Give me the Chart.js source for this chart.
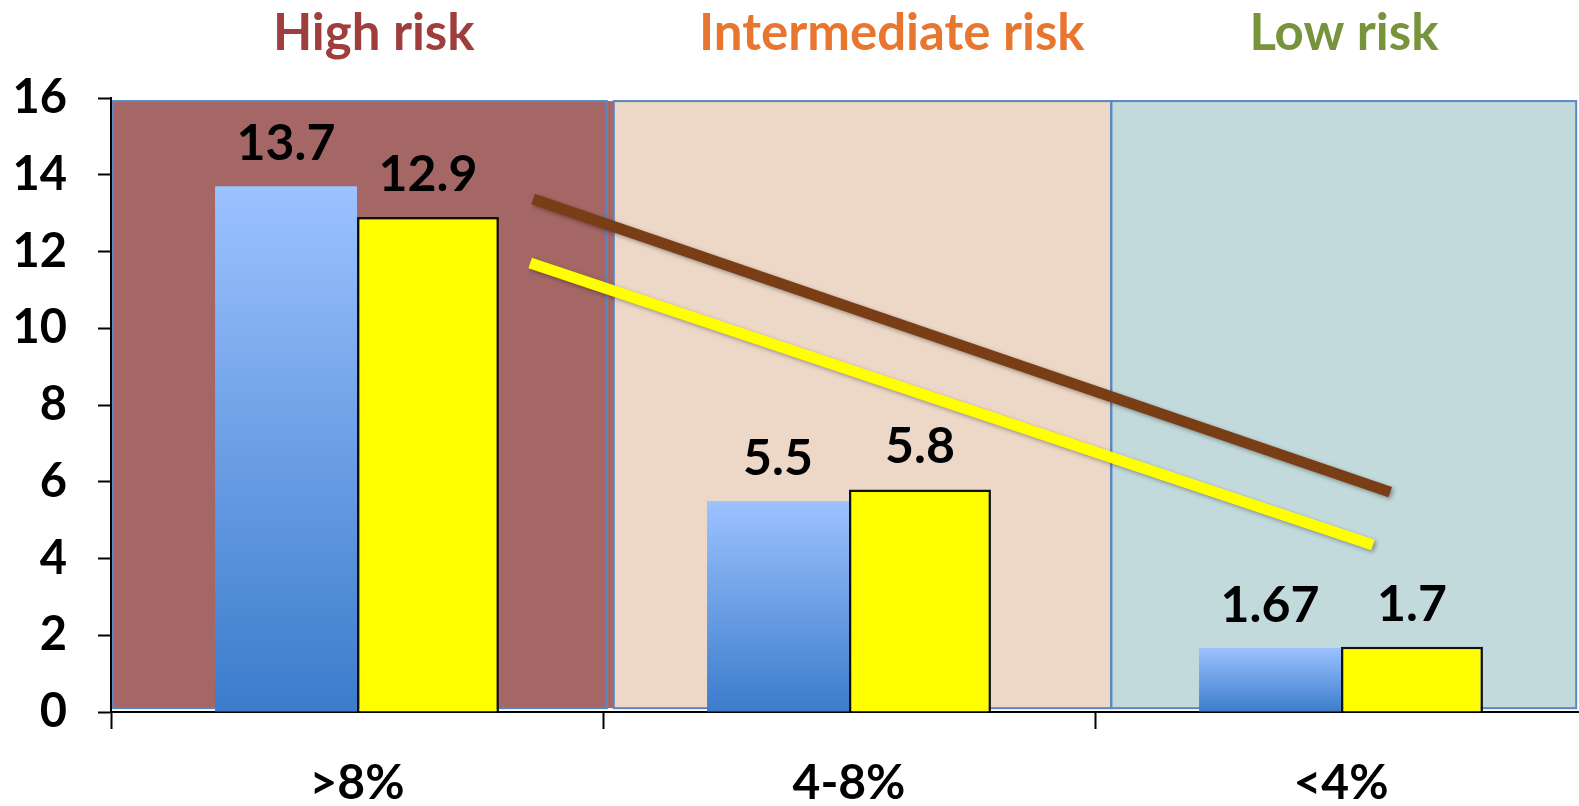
<!DOCTYPE html>
<html>
<head>
<meta charset="utf-8">
<script src="https://cdn.jsdelivr.net/npm/chart.js@4/dist/chart.umd.min.js"></script>
<style>
  html, body { margin: 0; padding: 0; background: #fff; overflow: hidden; }
  canvas { display: block; }
</style>
</head>
<body>
<!-- the axis runs slightly past the right edge of the window -->
<canvas id="riskChart" width="1587" height="806"></canvas>
<script>
const categories = ['>8%', '4-8%', '<4%'];
const riskGroups = ['High risk', 'Intermediate risk', 'Low risk'];
const blueValues = [13.7, 5.5, 1.67];
const yellowValues = [12.9, 5.8, 1.7];
// trend lines, x in category units (0 = first group centre)
const brownTrend = [{ x: 0.358, y: 13.37 }, { x: 2.100, y: 5.73 }];
const yellowTrend = [{ x: 0.352, y: 11.70 }, { x: 2.065, y: 4.35 }];

const FONT = 'Lato, "Open Sans", sans-serif';
const groupColors = ['#9E3E3D', '#E9762F', '#77933C'];
const panelFills = ['#A56766', '#EDD8C7', '#C2DADB'];
const panelEdges = [[-0.496, 0.522], [0.522, 1.533], [1.533, 2.478]];
const titlePos = [0.034, 1.087, 2.006];

// coloured background bands, trend lines and group headings
const panels = {
  id: 'panels',
  beforeDatasetsDraw(chart) {
    const { ctx, scales } = chart;
    const xl = scales.xl, y = scales.y;
    const top = y.getPixelForValue(15.92), bottom = y.getPixelForValue(0.1);
    ctx.save();
    panelEdges.forEach(([a, b], i) => {
      const l = xl.getPixelForValue(a), r = xl.getPixelForValue(b);
      ctx.fillStyle = panelFills[i];
      ctx.fillRect(l, top, r - l, bottom - top);
    });
    ctx.strokeStyle = '#5A86C4';
    ctx.lineWidth = 2;
    panelEdges.forEach(([a, b], i) => {
      const l = xl.getPixelForValue(a);
      const r = xl.getPixelForValue(i === 0 ? b - 0.014 : b);
      ctx.strokeRect(l, top, r - l, bottom - top);
    });

    // trend lines with a soft drop shadow
    ctx.shadowColor = 'rgba(0,0,0,0.35)';
    ctx.shadowBlur = 4;
    ctx.shadowOffsetX = 2;
    ctx.shadowOffsetY = 2;
    ctx.lineWidth = 11;
    ctx.lineCap = 'butt';
    [[brownTrend, '#7A3E17'], [yellowTrend, '#FFFF00']].forEach(([pts, color]) => {
      ctx.strokeStyle = color;
      ctx.beginPath();
      pts.forEach((p, i) => {
        const px = xl.getPixelForValue(p.x), py = y.getPixelForValue(p.y);
        if (i === 0) ctx.moveTo(px, py); else ctx.lineTo(px, py);
      });
      ctx.stroke();
    });
    ctx.restore();
  },
  afterDraw(chart) {
    const { ctx, scales } = chart;
    ctx.save();
    ctx.font = 'bold 51px ' + FONT;
    ctx.textAlign = 'center';
    ctx.textBaseline = 'alphabetic';
    riskGroups.forEach((t, i) => {
      ctx.fillStyle = groupColors[i];
      ctx.fillText(t, scales.xl.getPixelForValue(titlePos[i]), 50);
    });
    ctx.restore();
  }
};

// value labels above the bars
const valueLabels = {
  id: 'valueLabels',
  afterDatasetsDraw(chart) {
    const { ctx } = chart;
    ctx.save();
    ctx.font = 'bold 50px ' + FONT;
    ctx.fillStyle = '#000';
    ctx.textAlign = 'center';
    ctx.textBaseline = 'alphabetic';
    chart.data.datasets.forEach((ds, di) => {
      chart.getDatasetMeta(di).data.forEach((bar, i) => {
        ctx.fillText(String(ds.data[i]), bar.x, bar.y - 26);
      });
    });
    ctx.restore();
  }
};

function blueGradient(context) {
  const chart = context.chart;
  if (!chart.chartArea || context.dataIndex === undefined) return '#6A9BE0';
  const y = chart.scales.y;
  const top = y.getPixelForValue(blueValues[context.dataIndex]);
  const bottom = y.getPixelForValue(0);
  const g = chart.ctx.createLinearGradient(0, top, 0, bottom);
  g.addColorStop(0, '#9CC2FF');
  g.addColorStop(1, '#3B7CCB');
  return g;
}

new Chart(document.getElementById('riskChart'), {
  type: 'bar',
  data: {
    labels: categories,
    datasets: [
      {
        data: blueValues,
        backgroundColor: blueGradient,
        borderWidth: 0,
        categoryPercentage: 0.577,
        barPercentage: 1
      },
      {
        data: yellowValues,
        backgroundColor: '#FFFF00',
        borderColor: '#111',
        borderWidth: 2.5,
        categoryPercentage: 0.577,
        barPercentage: 1
      }
    ]
  },
  options: {
    responsive: false,
    animation: false,
    layout: { padding: { top: 98, right: 0, left: 0, bottom: 0 } },
    plugins: {
      legend: { display: false },
      tooltip: { enabled: false }
    },
    scales: {
      x: {
        offset: true,
        grid: {
          offset: true,
          drawOnChartArea: false,
          drawTicks: true,
          tickLength: 17,
          tickWidth: 2,
          color: '#000'
        },
        border: { display: true, color: '#000', width: 2 },
        ticks: {
          color: '#000',
          font: { family: FONT, weight: 'bold', size: 48 },
          padding: 26
        },
        afterFit(scale) { scale.height = 94; }
      },
      // helper axis in category units for the bands and trend lines
      xl: {
        type: 'linear',
        display: false,
        offset: false,
        min: -0.5,
        max: 2.5
      },
      y: {
        min: 0,
        max: 16,
        ticks: {
          stepSize: 2,
          color: '#000',
          font: { family: FONT, weight: 'bold', size: 47 },
          padding: 31
        },
        grid: {
          drawOnChartArea: false,
          drawTicks: true,
          tickLength: 13,
          tickWidth: 2,
          color: '#000'
        },
        border: { display: true, color: '#000', width: 2 },
        afterFit(scale) { scale.width = 111; }
      }
    }
  },
  plugins: [panels, valueLabels]
});
</script>
</body>
</html>
